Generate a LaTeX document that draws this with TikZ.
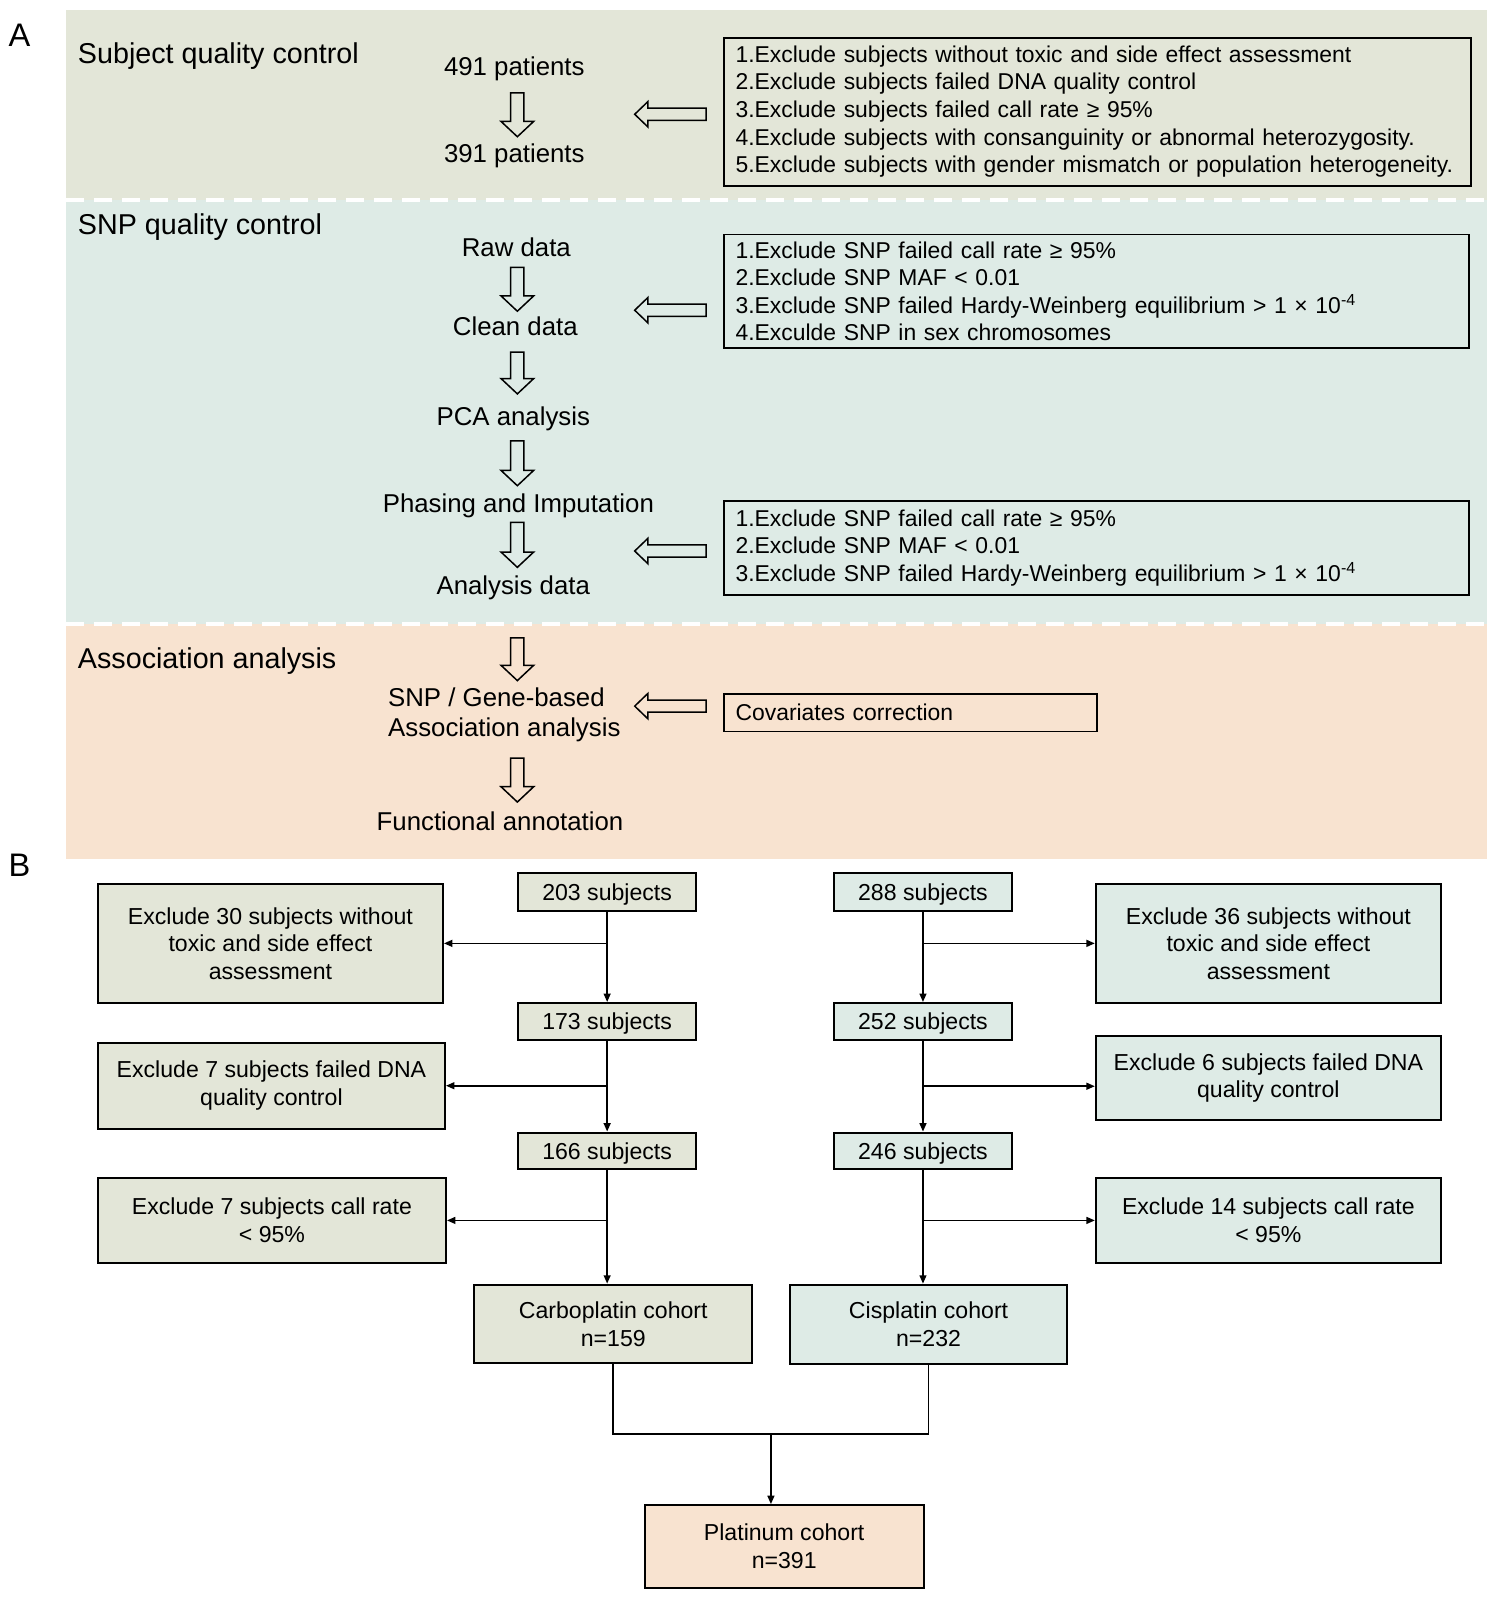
\documentclass[tikz,border=0pt]{standalone}
\usepackage{fontspec}
\setmainfont{Liberation Sans}
\usetikzlibrary{calc,arrows.meta}
\definecolor{bgA}{HTML}{E3E6D8}
\definecolor{bgB}{HTML}{DEEBE6}
\definecolor{bgC}{HTML}{F8E3D0}
\newcommand\ftitle{\fontsize{14.35}{16.3}\selectfont}
\newcommand\fflow{\fontsize{12.9}{15.3}\selectfont}
\newcommand\fcrit{\fontsize{11.45}{13.78}\selectfont}
\newcommand\fbx{\fontsize{11.55}{13.78}\selectfont}
\newcommand\darrowat[2]{\draw[hollow] (#1) ++(-6.5,0) -- ++(13,0) -- ++(0,#2-15) -- ++(9.5,0) -- ++(-16,15) -- ++(-16,-15) -- ++(9.5,0) -- cycle;}
\newcommand\larrowat[1]{\draw[hollow] (#1) ++(0,-6) -- ++(-57,0) -- ++(0,-6.5) -- ++(-13,12.5) -- ++(13,12.5) -- ++(0,-6.5) -- ++(57,0) -- cycle;}
\begin{document}
\begin{tikzpicture}[x=0.5102pt,y=-0.5102pt,
  hollow/.style={draw=black, line width=0.75pt, line join=miter},
  crit/.style={draw=black, line width=0.9pt, anchor=north west, inner xsep=5.6pt, inner ysep=0pt, align=left, font=\fcrit},
  flow/.style={font=\fflow, inner sep=0pt},
  title/.style={font=\ftitle, anchor=west, inner sep=0pt},
  bbox/.style={draw=black, line width=1pt, align=center, inner sep=0pt, font=\fbx},
  oneline/.style={text height=8.6pt, text depth=0.3pt},
  conn/.style={draw=black, line width=0.85pt},
  tip/.style={-{Triangle[length=4.2pt,width=3.4pt]}}
]
\useasboundingbox (0,0) rectangle (1468,1568);
% bands
\fill[bgA] (65,10) rectangle (1457,196);
\fill[bgB] (65,196) rectangle (1457,612);
\fill[bgC] (65,612) rectangle (1457,842);
\draw[white, line width=2pt, dash pattern=on 9pt off 5pt] (65,196) -- (1457,196);
\draw[white, line width=2pt, dash pattern=on 9pt off 5pt] (65,612) -- (1457,612);

% panel labels
\node[font=\fontsize{16.3}{18}\selectfont, inner sep=0pt] (labA) at (19,35) {A};
\node[font=\fontsize{16.3}{18}\selectfont, inner sep=0pt] (labB) at (19,848) {B};

% section titles
\node[title] (t1) at (76,55) {Subject quality control};
\node[title] (t2) at (76,223) {SNP quality control};
\node[title] (t3) at (76,648) {Association analysis};

% flow A
\node[flow] (p491) at (504,67) {491 patients};
\node[flow] (p391) at (504,153) {391 patients};
\node[flow] (raw) at (506,242) {Raw data};
\node[flow] (clean) at (505,320) {Clean data};
\node[flow] (pca) at (503,410) {PCA analysis};
\node[flow] (phase) at (508,496) {Phasing and Imputation};
\node[flow] (anal) at (503,576) {Analysis data};
\node[flow, anchor=west, align=left] (assoc) at (380,700.5) {SNP / Gene-based\\Association analysis};
\node[flow] (func) at (490,805) {Functional annotation};

\coordinate (da1) at (507,91);
\coordinate (da2) at (507,262);
\coordinate (da3) at (507,345);
\coordinate (da4) at (507,432);
\coordinate (da5) at (507,512);
\coordinate (da6) at (507,625);
\coordinate (da7) at (507,743);
\darrowat{da1}{43}
\darrowat{da2}{43}
\darrowat{da3}{41}
\darrowat{da4}{44}
\darrowat{da5}{44}
\darrowat{da6}{42}
\darrowat{da7}{43}

\coordinate (la1) at (692,112);
\coordinate (la2) at (692,304);
\coordinate (la3) at (692,540);
\coordinate (la4) at (692,692);
\larrowat{la1}
\larrowat{la2}
\larrowat{la3}
\larrowat{la4}

% criteria boxes
\node[crit, text width=362pt, minimum height=74pt] (c1) at (709,36) {1.Exclude subjects without toxic and side effect assessment\\2.Exclude subjects failed DNA quality control\\3.Exclude subjects failed call rate ≥ 95\%\\4.Exclude subjects with consanguinity or abnormal heterozygosity.\\5.Exclude subjects with gender mismatch or population heterogeneity.};
\node[crit, text width=361pt, minimum height=56.6pt] (c2) at (709,229) {1.Exclude SNP failed call rate ≥ 95\%\\2.Exclude SNP MAF < 0.01\\3.Exclude SNP failed Hardy-Weinberg equilibrium > 1 × 10\textsuperscript{-4}\\4.Exculde SNP in sex chromosomes};
\node[crit, text width=361pt, minimum height=47pt] (c3) at (709,490) {1.Exclude SNP failed call rate ≥ 95\%\\2.Exclude SNP MAF < 0.01\\3.Exclude SNP failed Hardy-Weinberg equilibrium > 1 × 10\textsuperscript{-4}};
\node[crit, text width=175pt, minimum height=18.9pt] (c4) at (709,679) {Covariates correction};

% Part B
\begin{scope}[every node/.append style={bbox}]
\node[fill=bgA, oneline, minimum width=88.8pt, minimum height=18.9pt] (n203) at (595,874.5) {203 subjects};
\node[fill=bgA, minimum width=172.5pt, minimum height=59.7pt] (e30) at (265,924.5) {Exclude 30 subjects without\\toxic and side effect\\assessment};
\node[fill=bgA, oneline, minimum width=88.8pt, minimum height=18.4pt] (n173) at (595,1001) {173 subjects};
\node[fill=bgA, minimum width=173.5pt, minimum height=42.9pt] (e7a) at (266,1064) {Exclude 7 subjects failed DNA\\quality control};
\node[fill=bgA, oneline, minimum width=88.8pt, minimum height=18.4pt] (n166) at (595,1128) {166 subjects};
\node[fill=bgA, minimum width=174pt, minimum height=42.9pt] (e7b) at (266.5,1196) {Exclude 7 subjects call rate\\< 95\%};
\node[fill=bgA, minimum width=138.8pt, minimum height=39.3pt] (carbo) at (601,1297.5) {Carboplatin cohort\\n=159};

\node[fill=bgB, oneline, minimum width=88.8pt, minimum height=18.9pt] (n288) at (904.5,874.5) {288 subjects};
\node[fill=bgB, minimum width=172.5pt, minimum height=59.7pt] (e36) at (1243,924.5) {Exclude 36 subjects without\\toxic and side effect\\assessment};
\node[fill=bgB, oneline, minimum width=88.8pt, minimum height=18.4pt] (n252) at (904.5,1001) {252 subjects};
\node[fill=bgB, minimum width=172.5pt, minimum height=42.3pt] (e6) at (1243,1056.5) {Exclude 6 subjects failed DNA\\quality control};
\node[fill=bgB, oneline, minimum width=88.8pt, minimum height=18.4pt] (n246) at (904.5,1128) {246 subjects};
\node[fill=bgB, minimum width=172.5pt, minimum height=42.9pt] (e14) at (1243,1196) {Exclude 14 subjects call rate\\< 95\%};
\node[fill=bgB, minimum width=138.8pt, minimum height=39.8pt] (cis) at (910,1298) {Cisplatin cohort\\n=232};

\node[fill=bgC, minimum width=139.3pt, minimum height=41.3pt] (plat) at (768.5,1515.5) {Platinum cohort\\n=391};
\end{scope}

% connectors left
\draw[conn,tip] (n203.south) -- (n173.north);
\draw[conn,tip] (n203.south |- e30.east) -- (e30.east);
\draw[conn,tip] (n173.south) -- (n166.north);
\draw[conn,tip] (n173.south |- e7a.east) -- (e7a.east);
\draw[conn,tip] (n166.south) -- (n166.south |- carbo.north);
\draw[conn,tip] (n166.south |- e7b.east) -- (e7b.east);
% connectors right
\draw[conn,tip] (n288.south) -- (n252.north);
\draw[conn,tip] (n288.south |- e36.west) -- (e36.west);
\draw[conn,tip] (n252.south) -- (n246.north);
\coordinate (b6) at ($(n252.south)!0.5!(n246.north)$);
\draw[conn,tip] (b6) -- (b6 -| e6.west);
\draw[conn,tip] (n246.south) -- (n246.south |- cis.north);
\draw[conn,tip] (n246.south |- e14.west) -- (e14.west);
% merge
\coordinate (mid) at (755.5,1405);
\draw[conn] (carbo.south) -- (carbo.south |- mid) -- (cis.south |- mid) -- (cis.south);
\draw[conn,tip] (mid) -- (mid |- plat.north);
\end{tikzpicture}
\end{document}
